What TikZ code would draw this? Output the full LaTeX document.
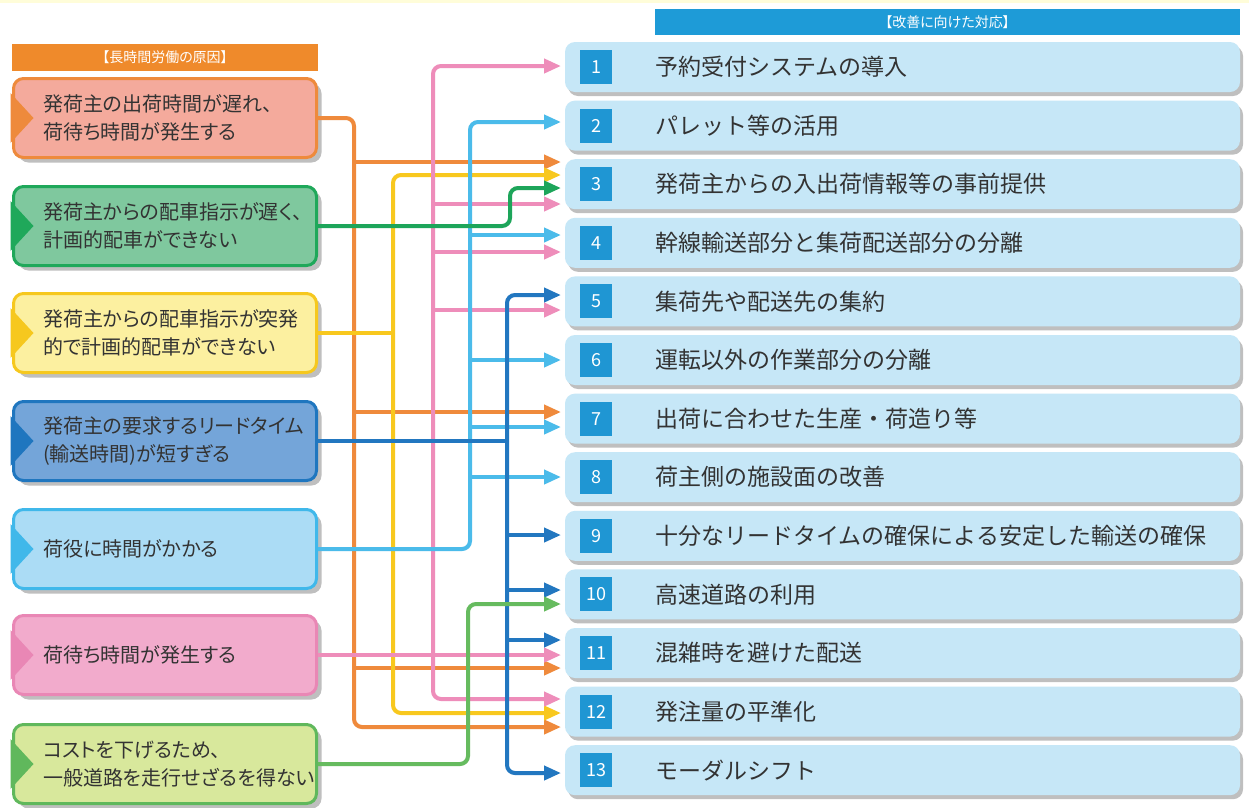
\documentclass[tikz,border=0pt]{standalone}
\usepackage{fontspec}
\setmainfont{Noto Sans CJK JP}
\newfontfamily\pfont[RawFeature=+palt]{Noto Sans CJK JP}
\usetikzlibrary{arrows.meta,shadows}
\definecolor{txt}{HTML}{333333}
\definecolor{oc}{HTML}{EF8A3C}
\definecolor{yc}{HTML}{F8C81E}
\definecolor{pc}{HTML}{EE8DBA}
\definecolor{lc}{HTML}{4BBBEA}
\definecolor{dc}{HTML}{2277C0}
\definecolor{gc}{HTML}{1DA55A}
\definecolor{lgc}{HTML}{66BB5F}
\definecolor{f1}{HTML}{F4AA9C}\definecolor{b1}{HTML}{EE8A3C}
\definecolor{f2}{HTML}{7FC89E}\definecolor{b2}{HTML}{1FA85A}
\definecolor{f3}{HTML}{FCF0A0}\definecolor{b3}{HTML}{F6C81E}
\definecolor{f4}{HTML}{74A5D9}\definecolor{b4}{HTML}{1F76BF}
\definecolor{f5}{HTML}{ABDCF5}\definecolor{b5}{HTML}{40B8EA}
\definecolor{f6}{HTML}{F2ABCC}\definecolor{b6}{HTML}{E987B5}
\definecolor{f7}{HTML}{D8E89C}\definecolor{b7}{HTML}{60B85C}
\definecolor{solfill}{HTML}{C6E7F7}
\definecolor{numblue}{HTML}{1F96D3}
\definecolor{hdorange}{HTML}{EF8A2B}
\definecolor{hdblue}{HTML}{1E9BD7}
\begin{document}
\begin{tikzpicture}[x=1pt,y=-1pt,
  cause/.style={draw, line width=3pt, rounded corners=10pt, minimum width=303pt, minimum height=79pt, inner sep=0pt,
    drop shadow={shadow xshift=5pt, shadow yshift=-5pt, fill=black!55, opacity=0.45}},
  ctext/.style={align=left, anchor=west, inner sep=0pt, text=txt, font=\pfont\fontsize{20}{28}\selectfont},
  sol/.style={fill=solfill, rounded corners=10pt, minimum width=675pt, minimum height=50pt, inner sep=0pt,
    drop shadow={shadow xshift=3pt, shadow yshift=-4pt, fill=black!55, opacity=0.45}},
  numbox/.style={fill=numblue, minimum width=32pt, minimum height=34pt, inner sep=0pt, text=white, font=\fontsize{18}{18}\selectfont},
  stext/.style={anchor=west, inner sep=0pt, text=txt, font=\fontsize{23}{26}\selectfont},
  header/.style={inner sep=0pt, text=white, font=\pfont\fontsize{14}{15}\selectfont},
  ln/.style={line width=4pt, rounded corners=8pt},
  arr/.style={line width=4pt, rounded corners=8pt, -{Triangle[length=17pt,width=14pt]}},
]
\useasboundingbox (0,0) rectangle (1249,807);
\fill[white] (0,0) rectangle (1249,807);
\fill[yellow!15] (0,0) rectangle (1249,3);

% headers
\node[header, fill=hdorange, minimum width=306pt, minimum height=27pt] (hl) at (165,57.5) {【長時間労働の原因】};
\node[header, fill=hdblue, minimum width=585pt, minimum height=26pt] (hr) at (947.5,22) {【改善に向けた対応】};

% left boxes
\node[cause, draw=b1, fill=f1] (c1) at (165,118) {};
\node[cause, draw=b2, fill=f2] (c2) at (165,226) {};
\node[cause, draw=b3, fill=f3] (c3) at (165,333) {};
\node[cause, draw=b4, fill=f4] (c4) at (165,441) {};
\node[cause, draw=b5, fill=f5] (c5) at (165,549) {};
\node[cause, draw=b6, fill=f6] (c6) at (165,655) {};
\node[cause, draw=b7, fill=f7] (c7) at (165,764) {};
\foreach \i/\c in {1/b1,2/b2,3/b3,4/b4,5/b5,6/b6,7/b7}{
  \fill[\c] ([xshift=-1.5pt,yshift=25pt]c\i.west) -- ([xshift=21.5pt]c\i.west) -- ([xshift=-1.5pt,yshift=-25pt]c\i.west) -- cycle;
}
\node[ctext] (c1t) at ([xshift=31pt]c1.west) {発荷主の出荷時間が遅れ、\\荷待ち時間が発生する};
\node[ctext] (c2t) at ([xshift=31pt]c2.west) {発荷主からの配車指示が遅く、\\計画的配車ができない};
\node[ctext] (c3t) at ([xshift=31pt]c3.west) {発荷主からの配車指示が突発\\的で計画的配車ができない};
\node[ctext] (c4t) at ([xshift=31pt]c4.west) {発荷主の要求するリードタイム\\(輸送時間)が短すぎる};
\node[ctext] (c5t) at ([xshift=31pt]c5.west) {荷役に時間がかかる};
\node[ctext] (c6t) at ([xshift=31pt]c6.west) {荷待ち時間が発生する};
\node[ctext] (c7t) at ([xshift=31pt]c7.west) {コストを下げるため、\\一般道路を走行せざるを得ない};

% right boxes
\foreach \i/\t in {1/予約受付システムの導入, 2/パレット等の活用, 3/発荷主からの入出荷情報等の事前提供,
  4/幹線輸送部分と集荷配送部分の分離, 5/集荷先や配送先の集約, 6/運転以外の作業部分の分離,
  7/出荷に合わせた生産・荷造り等, 8/荷主側の施設面の改善, 9/十分なリードタイムの確保による安定した輸送の確保,
  10/高速道路の利用, 11/混雑時を避けた配送, 12/発注量の平準化, 13/モーダルシフト}{
  \node[sol] (r\i) at (902.5, {67+(\i-1)*58.6}) {};
  \node[numbox] (n\i) at (596, {67+(\i-1)*58.6}) {\i};
  \node[stext] (s\i) at (655, {67+(\i-1)*58.6}) {\t};
}

% arrow targets and trunk positions
\coordinate (a1p) at (561,66);
\coordinate (a2l) at (561,122);
\coordinate (a3o) at (561,162);
\coordinate (a3y) at (561,175);
\coordinate (a3g) at (561,188);
\coordinate (a3p) at (561,204);
\coordinate (a4l) at (561,235);
\coordinate (a4p) at (561,252);
\coordinate (a5d) at (561,295);
\coordinate (a5p) at (561,310);
\coordinate (a6l) at (561,360);
\coordinate (a7o) at (561,412);
\coordinate (a7l) at (561,427);
\coordinate (a8l) at (561,477);
\coordinate (a9d) at (561,535);
\coordinate (a10d) at (561,590);
\coordinate (a10g) at (561,604);
\coordinate (a11d) at (561,640);
\coordinate (a11p) at (561,655);
\coordinate (a11o) at (561,668);
\coordinate (a12p) at (561,699);
\coordinate (a12y) at (561,713);
\coordinate (a12o) at (561,727);
\coordinate (a13d) at (561,773);
\coordinate (xo) at (354,0);
\coordinate (xy) at (393,0);
\coordinate (xp) at (433,0);
\coordinate (xlg) at (468,0);
\coordinate (xl) at (470,0);
\coordinate (xd) at (507,0);
\coordinate (xg) at (510,0);

% orange
\draw[arr, oc] (c1.east) -| (xo |- a12o) -- (a12o);
\draw[arr, oc] (xo |- a3o) -- (a3o);
\draw[arr, oc] (xo |- a7o) -- (a7o);
\draw[arr, oc] (xo |- a11o) -- (a11o);
% yellow
\draw[ln, yc] (c3.east) -- (xy |- c3.east);
\draw[arr, yc] (xy |- c3.east) |- (a3y);
\draw[arr, yc] (xy |- c3.east) |- (a12y);
% pink
\draw[arr, pc] (c6.east) -- (a11p);
\draw[arr, pc] (xp |- c6.east) |- (a1p);
\draw[arr, pc] (xp |- c6.east) |- (a12p);
\draw[arr, pc] (xp |- a3p) -- (a3p);
\draw[arr, pc] (xp |- a4p) -- (a4p);
\draw[arr, pc] (xp |- a5p) -- (a5p);
% light blue
\draw[arr, lc] (c5.east) -| (xl |- a2l) -- (a2l);
\draw[arr, lc] (xl |- a4l) -- (a4l);
\draw[arr, lc] (xl |- a6l) -- (a6l);
\draw[arr, lc] (xl |- a7l) -- (a7l);
\draw[arr, lc] (xl |- a8l) -- (a8l);
% dark blue
\draw[ln, dc] (c4.east) -- (xd |- c4.east);
\draw[arr, dc] (xd |- c4.east) |- (a5d);
\draw[arr, dc] (xd |- c4.east) |- (a13d);
\draw[arr, dc] (xd |- a9d) -- (a9d);
\draw[arr, dc] (xd |- a10d) -- (a10d);
\draw[arr, dc] (xd |- a11d) -- (a11d);
% green
\draw[arr, gc] (c2.east) -| (xg |- a3g) -- (a3g);
% light green
\draw[arr, lgc] (c7.east) -| (xlg |- a10g) -- (a10g);
\end{tikzpicture}
\end{document}
